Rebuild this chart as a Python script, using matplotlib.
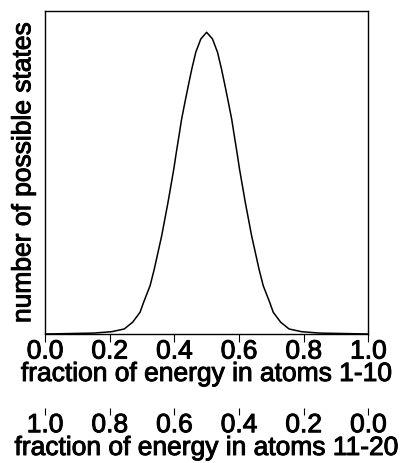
import numpy as np
import matplotlib
matplotlib.use('Agg')
import matplotlib.pyplot as plt
import matplotlib.patheffects as pe

plt.rcParams['font.family'] = 'Liberation Sans'

# fraction of energy in atoms 1-10 and relative number of states (peak = 1)
frac = [0.0, 0.15, 0.206, 0.245, 0.271, 0.294, 0.305, 0.325, 0.338, 0.361,
        0.3805, 0.3984, 0.4062, 0.4143, 0.4227, 0.433, 0.4432, 0.454, 0.4664, 0.482, 0.5,
        0.518, 0.5336, 0.546, 0.5568, 0.567, 0.5773, 0.5857, 0.5938, 0.6016, 0.6195, 0.639, 0.662,
        0.675, 0.695, 0.706, 0.729, 0.755, 0.794, 0.85, 1.0]
states = [0.0, 0.003, 0.0076, 0.0166, 0.039, 0.072, 0.105, 0.160, 0.215, 0.326,
          0.4365, 0.547, 0.602, 0.656, 0.713, 0.769, 0.823, 0.878, 0.934, 0.978, 1.0,
          0.978, 0.934, 0.878, 0.823, 0.769, 0.713, 0.656, 0.602, 0.547, 0.4365, 0.326, 0.215,
          0.160, 0.105, 0.072, 0.039, 0.0166, 0.0076, 0.003, 0.0]

tick_pos = [0.0, 0.2, 0.4, 0.6, 0.8, 1.0]
top_labels = ['0.0', '0.2', '0.4', '0.6', '0.8', '1.0']
other_labels = ['1.0', '0.8', '0.6', '0.4', '0.2', '0.0']

fs = 19
heavy = [pe.withStroke(linewidth=0.7, foreground='black')]

fig = plt.figure(figsize=(4.03, 4.64), dpi=100)
ax = fig.add_axes([45 / 403, 1 - 335 / 464, 323.3 / 403, 323 / 464])
ax.plot(frac, states, color='black', lw=1.1)
ax.set_xlim(0, 1)
ax.set_ylim(0, 1.0706)
ax.set_yticks([])
for s in ax.spines.values():
    s.set_linewidth(1.0)

ax.set_xticks(tick_pos)
ax.set_xticklabels(top_labels)
ax.tick_params(axis='x', direction='out', length=6, width=0.8, pad=-2, labelsize=fs)
ax.set_ylabel('number of possible states', fontsize=fs)
ax.yaxis.set_label_coords(-0.03, 0.5)

sec = ax.secondary_xaxis(-0.228)
sec.set_xticks(tick_pos)
sec.set_xticklabels(other_labels)
sec.spines['bottom'].set_visible(False)
sec.tick_params(axis='x', direction='out', length=5, width=0.8, pad=-1, labelsize=fs)

cx = (45 + 323.3 / 2) / 403
fig.text(cx, 1 - 382 / 464, 'fraction of energy in atoms 1-10', fontsize=fs,
         ha='center', va='baseline', path_effects=heavy)
fig.text(cx, 1 - 456 / 464, 'fraction of energy in atoms 11-20', fontsize=fs,
         ha='center', va='baseline', path_effects=heavy)

for t in ax.get_xticklabels() + sec.get_xticklabels() + [ax.yaxis.label]:
    t.set_path_effects(heavy)

fig.savefig('out.png', dpi=100)
